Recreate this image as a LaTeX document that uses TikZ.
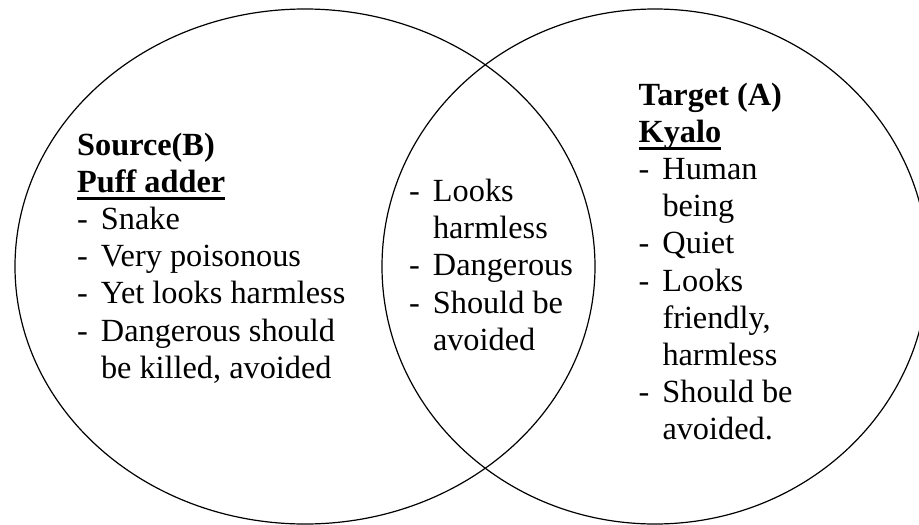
\documentclass[tikz,border=0pt]{standalone}
\usepackage{fontspec}
\setmainfont{Liberation Serif}
\usetikzlibrary{positioning}

% list entry with a hanging dash, and its continuation line
\newcommand\dashitem[1]{\makebox[23.8pt][l]{-}#1}
\newcommand\contline[1]{\hspace*{23.8pt}#1}
% heavy underline set at a fixed depth below the baseline
\newcommand\heavyul[1]{\setbox0\hbox{#1}\rlap{\rule[-7.8pt]{\wd0}{3.2pt}}\box0}

\tikzset{
  setring/.style={draw=black, line width=1.2pt},
  block/.style={anchor=base west, inner sep=0pt, align=left,
    font=\fontsize{32.3}{37.2}\selectfont}
}

\begin{document}
\begin{tikzpicture}[x=1pt, y=-1pt]
  \useasboundingbox (0,0) rectangle (919,525);
  \clip (0,0) rectangle (919,525);

  % the two overlapping sets
  \draw[setring] (305,266.5) ellipse [x radius=290pt, y radius=257.5pt];
  \draw[setring] (655,266.5) ellipse [x radius=273pt, y radius=257.5pt];

  % source side
  \node[block] (source) at (77,155) {\begin{tabular}[t]{@{}l@{}}
    \textbf{Source(B)}\\
    \heavyul{\textbf{Puff adder}}\\
    \dashitem{Snake}\\
    \dashitem{Very poisonous}\\
    \dashitem{Yet looks harmless}\\
    \dashitem{Dangerous should}\\
    \contline{be killed, avoided}
  \end{tabular}};

  % shared features
  \node[block] (shared) at (409,201.5) {\begin{tabular}[t]{@{}l@{}}
    \dashitem{Looks}\\
    \contline{harmless}\\
    \dashitem{Dangerous}\\
    \dashitem{Should be}\\
    \contline{avoided}
  \end{tabular}};

  % target side
  \node[block] (target) at (638.5,105) {\begin{tabular}[t]{@{}l@{}}
    \textbf{Target (A)}\\
    \heavyul{\textbf{Kyalo}}\\
    \dashitem{Human}\\
    \contline{being}\\
    \dashitem{Quiet}\\
    \dashitem{Looks}\\
    \contline{friendly,}\\
    \contline{harmless}\\
    \dashitem{Should be}\\
    \contline{avoided.}
  \end{tabular}};
\end{tikzpicture}
\end{document}
